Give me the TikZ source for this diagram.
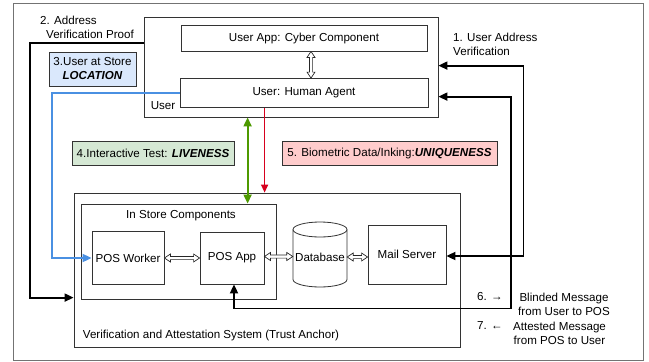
\documentclass[tikz,border=0pt]{standalone}
\usepackage{fontspec}
\setmainfont{Liberation Sans}
\usetikzlibrary{arrows.meta,calc}
\definecolor{bluefill}{RGB}{218,232,252}
\definecolor{greenfill}{RGB}{213,232,212}
\definecolor{pinkfill}{RGB}{255,204,204}
\definecolor{blueline}{RGB}{74,144,226}
\definecolor{greenline}{RGB}{77,153,0}
\definecolor{redline}{RGB}{215,0,30}
\tikzset{
  box/.style={draw=black!80, line width=0.8pt, inner sep=0pt, align=center},
  lbl/.style={draw=black!80, line width=0.8pt, inner sep=0pt, align=center},
  txt/.style={inner sep=0pt, align=center},
  blk/.style={draw=black, line width=1.8pt},
  hollow/.style={draw=black!85, line width=0.7pt, fill=white},
}
\newcommand\hhollow[2]{\draw[hollow] let \p1=(#1), \p2=(#2) in
  (\x1,\y1) -- (\x1+6pt,\y1+4pt) -- (\x1+6pt,\y1+1.6pt) -- (\x2-6pt,\y1+1.6pt) -- (\x2-6pt,\y1+4pt) -- (\x2,\y1)
  -- (\x2-6pt,\y1-4pt) -- (\x2-6pt,\y1-1.6pt) -- (\x1+6pt,\y1-1.6pt) -- (\x1+6pt,\y1-4pt) -- cycle;}
\newcommand\vhollow[2]{\draw[hollow] let \p1=(#1), \p2=(#2) in
  (\x1,\y1) -- (\x1+4pt,\y1-6pt) -- (\x1+1.6pt,\y1-6pt) -- (\x1+1.6pt,\y2+6pt) -- (\x1+4pt,\y2+6pt) -- (\x1,\y2)
  -- (\x1-4pt,\y2+6pt) -- (\x1-1.6pt,\y2+6pt) -- (\x1-1.6pt,\y1-6pt) -- (\x1-4pt,\y1-6pt) -- cycle;}
\begin{document}
\begin{tikzpicture}[x=1pt,y=-1pt,font=\fontsize{11.6}{14}\selectfont]
\useasboundingbox (0,0) rectangle (649,362);
% outer frame
\draw[black!55, line width=0.9pt] (13,3) rectangle (643,360);

% user side
\node[box, minimum width=294pt, minimum height=100pt] (user) at (291,67) {};
\node[box, minimum width=246pt, minimum height=26pt] (userapp) at (304,38) {User App: Cyber Component};
\node[box, minimum width=248pt, minimum height=29pt] (human) at (304,93) {User: Human Agent};
\node[txt, anchor=north] (userlbl) at (163,101.6) {User};
\vhollow{$(userapp.south)+(7,0)$}{$(human.north)+(7,0)$}

% verification system
\node[box, minimum width=386pt, minimum height=154pt] (vas) at (267,270) {};
\node[txt, anchor=north] (vaslbl) at (211,329.6) {Verification and Attestation System (Trust Anchor)};
\node[box, minimum width=195pt, minimum height=95pt] (instore) at (178.5,251.5) {};
\node[txt, anchor=north] (instorelbl) at (181,210.6) {In Store Components};
\node[box, minimum width=72pt, minimum height=53pt] (worker) at (128,258) {POS Worker};
\node[box, minimum width=64pt, minimum height=52pt] (app) at (232,258) {POS App};
% database cylinder
\draw[black!80, line width=0.8pt, fill=white] (293,229.5) -- (293,279.5) arc[start angle=180, end angle=360, x radius=27pt, y radius=7.5pt] -- (347,229.5);
\draw[black!80, line width=0.8pt, fill=white] (320,229.5) ellipse [x radius=27pt, y radius=7.5pt];
\node[txt, minimum width=54pt, minimum height=60pt] (db) at (320,257) {Database};
\node[box, minimum width=78pt, minimum height=59pt] (mail) at (407,254.5) {Mail Server};

\hhollow{worker.east}{app.west}
\hhollow{$(app.east)+(0,-1.5)$}{$(db.west)+(0,-1.5)$}
\hhollow{db.east}{mail.west}

% coloured labels
\node[lbl, fill=bluefill, minimum width=87pt, minimum height=34pt] (loc) at (92.5,69) {3.User at Store\\\textbf{\textit{LOCATION}}};
\node[lbl, fill=greenfill, minimum width=162pt, minimum height=24pt] (live) at (153,153) {4.Interactive Test: \textbf{\textit{LIVENESS}}};
\node[lbl, fill=pinkfill, minimum width=215pt, minimum height=24pt] (uniq) at (389.5,153) {5. Biometric Data/Inking:\textbf{\textit{UNIQUENESS}}};

% text labels
\node[txt, anchor=north west, align=left] (t2) at (40,15.6) {2. Address\\\hspace*{6pt}Verification Proof};
\node[txt, anchor=north west, align=left] (t1) at (453,32.6) {1. User Address\\Verification};
\node[txt, anchor=north] (t6) at (490,292.6) {6. →};
\node[txt, anchor=north] (t6b) at (564,292.6) {Blinded Message\\from User to POS};
\node[txt, anchor=north] (t7) at (490,321.6) {7. ←};
\node[txt, anchor=north] (t7b) at (559.5,321.6) {Attested Message\\from POS to User};

% connectors
\draw[blueline, line width=1.8pt, -{Triangle[length=9pt,width=8pt]}] (human.west) -| ($(worker.west)+(-40,0)$) -- (worker.west);
\draw[blk, -{Triangle[length=9pt,width=8pt]}] ($(user.north west)+(0,26)$) -| ($(vas.north west)+(-44,105)$) -- ($(vas.north west)+(0,105)$);
\draw[blk, {Triangle[length=9pt,width=8pt]}-{Triangle[length=9pt,width=8pt]}] ($(user.north east)+(0,49)$) -| ($(mail.east)+(77,1.5)$) -- ($(mail.east)+(0,1.5)$);
\draw[blk, {Triangle[length=9pt,width=8pt]}-{Triangle[length=9pt,width=8pt]}] ($(user.north east)+(0,80)$) -| ($(app.south)+(279,24)$) -| ($(app.south)+(2,0)$);
\draw[greenline, line width=1.8pt, {Triangle[length=9pt,width=8pt]}-{Triangle[length=9pt,width=8pt]}] ($(user.south west)+(104,0)$) -- ($(instore.north west)+(167,0)$);
\draw[redline, line width=1.4pt, -{Triangle[length=8pt,width=7pt]}] ($(human.south west)+(85,0)$) -- ($(vas.north west)+(191,0)$);
\end{tikzpicture}
\end{document}
